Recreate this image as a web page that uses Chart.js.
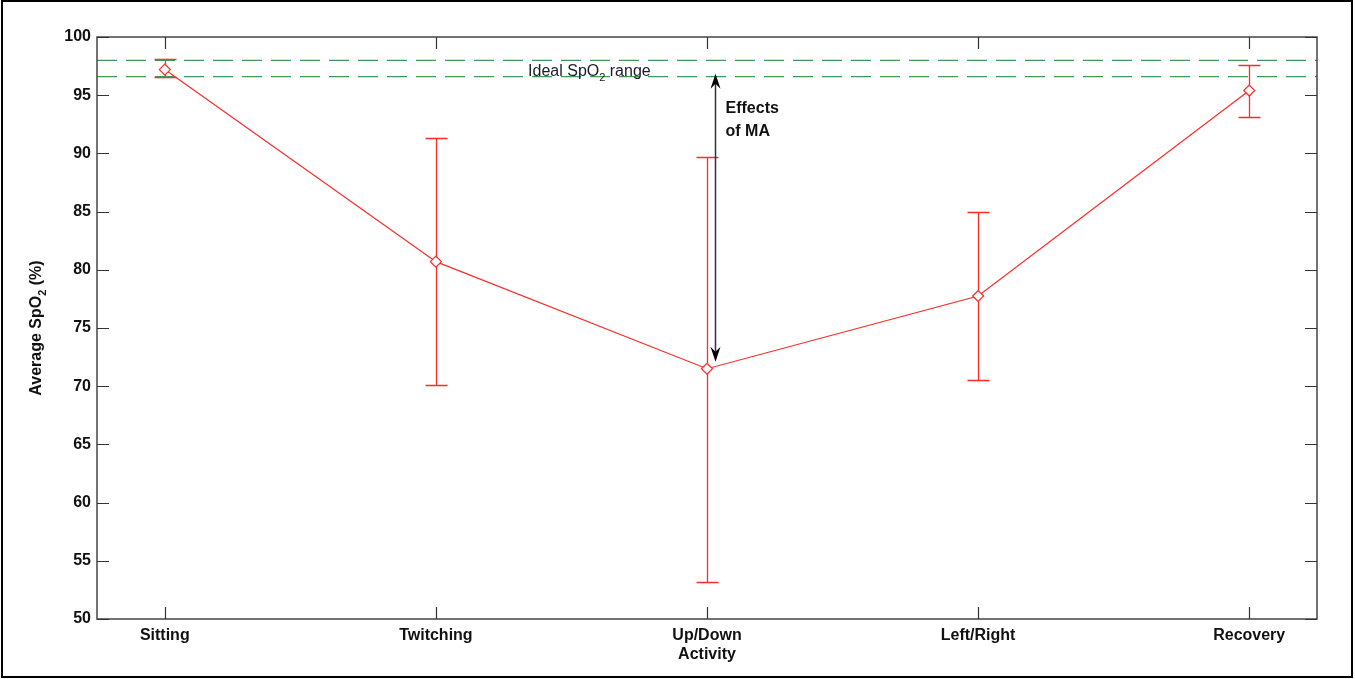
<!DOCTYPE html>
<html>
<head>
<meta charset="utf-8">
<script src="https://cdn.jsdelivr.net/npm/chart.js@4"></script>
<style>
html,body{margin:0;padding:0;background:#fff;}
canvas{display:block;}
</style>
</head>
<body>
<canvas id="c" width="1355" height="679"></canvas>
<script>
// ---- data ----
const categories = ["Sitting", "Twitching", ["Up/Down", "Activity"], "Left/Right", "Recovery"];
const positions = [1, 2, 3, 4, 5];
const meanSpO2 = [97.2, 80.7, 71.5, 77.75, 95.4];
const lowerSpO2 = [96.6, 70.1, 53.2, 70.5, 93.1];
const upperSpO2 = [98.1, 91.3, 89.7, 85.0, 97.6];
const idealRange = [96.6, 98.0];
const yTicks = [50, 55, 60, 65, 70, 75, 80, 85, 90, 95, 100];
const arrowX = 3.03;
const arrowFromTo = [96.85, 72.1];

const FONT = "'Liberation Sans', Arial, sans-serif";
const RED = '#ff2a2a';

const xMin = 0.75, xMax = 5.25;

const decor = {
  id: 'decor',
  beforeDatasetsDraw(chart) {
    const ctx = chart.ctx, xs = chart.scales.x, ys = chart.scales.y;
    ctx.save();
    ctx.strokeStyle = RED;
    ctx.lineWidth = 1.3;
    positions.forEach((p, i) => {
      const px = Math.round(xs.getPixelForValue(p)) + 0.5;
      const yl = Math.round(ys.getPixelForValue(lowerSpO2[i])) + 0.5;
      const yu = Math.round(ys.getPixelForValue(upperSpO2[i])) + 0.5;
      ctx.beginPath();
      ctx.moveTo(px, yl); ctx.lineTo(px, yu);
      ctx.moveTo(px - 11, yl); ctx.lineTo(px + 11, yl);
      ctx.moveTo(px - 11, yu); ctx.lineTo(px + 11, yu);
      ctx.stroke();
    });
    ctx.restore();
  },
  afterDraw(chart) {
    const ctx = chart.ctx, xs = chart.scales.x, ys = chart.scales.y;
    const a = chart.chartArea;
    ctx.save();
    ctx.strokeStyle = '#444';
    ctx.lineWidth = 1.5;
    ctx.strokeRect(a.left, a.top, a.right - a.left, a.bottom - a.top);
    ctx.lineWidth = 1.2;
    ctx.strokeStyle = '#333';
    ctx.beginPath();
    yTicks.forEach(v => {
      const py = Math.round(ys.getPixelForValue(v)) + 0.5;
      ctx.moveTo(a.left, py); ctx.lineTo(a.left + 12, py);
      ctx.moveTo(a.right, py); ctx.lineTo(a.right - 12, py);
    });
    positions.forEach(p => {
      const px = Math.round(xs.getPixelForValue(p)) + 0.5;
      ctx.moveTo(px, a.top); ctx.lineTo(px, a.top + 12);
      ctx.moveTo(px, a.bottom); ctx.lineTo(px, a.bottom - 12);
    });
    ctx.stroke();

    // y-axis title with subscript
    ctx.fillStyle = '#111';
    ctx.save();
    ctx.translate(41, (a.top + a.bottom) / 2);
    ctx.rotate(-Math.PI / 2);
    ctx.textBaseline = 'alphabetic';
    const big = 'bold 16px ' + FONT, small = 'bold 11px ' + FONT;
    const parts = [['Average SpO', big, 0], ['2', small, 5], [' (%)', big, 0]];
    let total = 0;
    parts.forEach(p => { ctx.font = p[1]; total += ctx.measureText(p[0]).width; });
    let cx = -total / 2;
    parts.forEach(p => { ctx.font = p[1]; ctx.fillText(p[0], cx, p[2]); cx += ctx.measureText(p[0]).width; });
    ctx.restore();

    // ideal range label
    ctx.fillStyle = '#1a1a2a';
    ctx.textBaseline = 'alphabetic';
    let tx = xs.getPixelForValue(2.34);
    const ty = ys.getPixelForValue(96.62);
    const lp = [['Ideal SpO', '16px ' + FONT, 0], ['2', '11px ' + FONT, 5], [' range', '16px ' + FONT, 0]];
    lp.forEach(p => { ctx.font = p[1]; ctx.fillText(p[0], tx, ty + p[2]); tx += ctx.measureText(p[0]).width; });

    // double arrow
    const ax = Math.round(xs.getPixelForValue(arrowX)) + 0.5;
    const y1 = ys.getPixelForValue(arrowFromTo[0]);
    const y2 = ys.getPixelForValue(arrowFromTo[1]);
    ctx.strokeStyle = '#333';
    ctx.lineWidth = 1.5;
    ctx.beginPath(); ctx.moveTo(ax, y1 + 6); ctx.lineTo(ax, y2 - 6); ctx.stroke();
    ctx.fillStyle = '#000';
    const head = (tipY, dir) => {
      ctx.beginPath();
      ctx.moveTo(ax, tipY);
      ctx.lineTo(ax - 5, tipY + dir * 15);
      ctx.lineTo(ax, tipY + dir * 10);
      ctx.lineTo(ax + 5, tipY + dir * 15);
      ctx.closePath(); ctx.fill();
    };
    head(y1, 1); head(y2, -1);

    ctx.font = 'bold 16px ' + FONT;
    ctx.fillStyle = '#111';
    ctx.textBaseline = 'middle';
    ctx.fillText('Effects', ax + 10, ys.getPixelForValue(93.85));
    ctx.fillText('of MA', ax + 10, ys.getPixelForValue(91.9));

    ctx.strokeStyle = '#000';
    ctx.lineWidth = 2;
    ctx.strokeRect(2, 1, 1350, 676);
    ctx.restore();
  }
};

const dashed = v => ({
  data: [{x: xMin, y: v}, {x: xMax, y: v}],
  borderColor: '#3f9a5a',
  borderWidth: 1.3,
  borderDash: [20, 9],
  pointRadius: 0,
  fill: false,
  order: 2
});

new Chart(document.getElementById('c'), {
  type: 'line',
  data: {
    datasets: [
      {
        data: positions.map((p, i) => ({x: p, y: meanSpO2[i]})),
        borderColor: RED,
        borderWidth: 1.2,
        pointStyle: 'rectRot',
        pointRadius: 5.5,
        pointBackgroundColor: '#fff',
        pointBorderColor: RED,
        pointBorderWidth: 1.2,
        fill: false,
        order: 1
      },
      dashed(idealRange[1]),
      dashed(idealRange[0])
    ]
  },
  options: {
    responsive: false,
    animation: false,
    layout: { padding: { top: 37, right: 38, left: 0, bottom: 0 } },
    plugins: { legend: { display: false }, tooltip: { enabled: false } },
    scales: {
      x: {
        type: 'linear', min: xMin, max: xMax,
        afterBuildTicks: s => { s.ticks = positions.map(v => ({value: v})); },
        afterFit: s => { s.height = 60; },
        grid: { display: false, drawTicks: false },
        border: { display: false },
        ticks: {
          padding: 7,
          color: '#111',
          font: { family: FONT, size: 16, weight: 'bold' },
          callback: v => categories[positions.indexOf(v)]
        }
      },
      y: {
        min: 50, max: 100,
        afterBuildTicks: s => { s.ticks = yTicks.map(v => ({value: v})); },
        afterFit: s => { s.width = 97; },
        grid: { display: false, drawTicks: false },
        border: { display: false },
        ticks: {
          padding: 6,
          color: '#111',
          font: { family: FONT, size: 16, weight: 'bold' }
        }
      }
    }
  },
  plugins: [decor]
});
</script>
</body>
</html>
